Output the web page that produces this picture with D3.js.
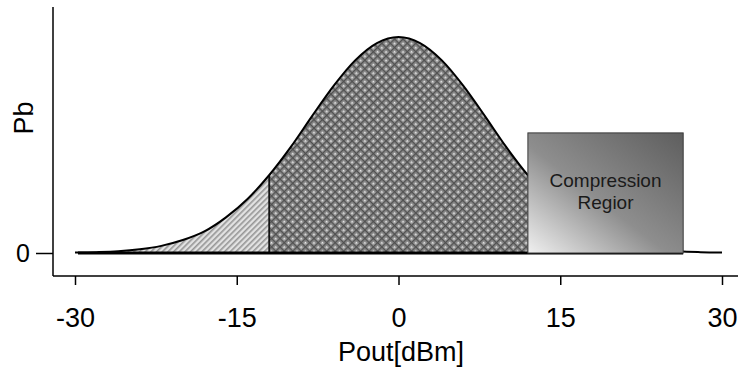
<!DOCTYPE html>
<html>
<head>
<meta charset="utf-8">
<script src="https://cdn.jsdelivr.net/npm/d3@7"></script>
<style>
  body { margin: 0; background: #fff; }
  text { font-family: "Liberation Sans", Arial, sans-serif; }
</style>
</head>
<body>
<script>
// data
var pout = [-30, -28, -26, -24, -22, -20, -18, -16, -14, -12, -10, -8, -6, -4, -2, 0,
            2, 4, 6, 8, 10, 12, 14, 16, 18, 20, 22, 24, 26, 28, 30];
var pb = [0.002, 0.004, 0.008, 0.017, 0.033, 0.06, 0.1, 0.165, 0.25, 0.36, 0.49, 0.635, 0.775, 0.893, 0.972, 1,
          0.972, 0.893, 0.775, 0.635, 0.49, 0.36, 0.25, 0.165, 0.1, 0.06, 0.033, 0.017, 0.008, 0.004, 0.002];
var xTicks = [-30, -15, 0, 15, 30];
var yTicks = [0];
var lowCut = -12;
var compStart = 12;
var compEnd = 26.4;
var compTop = 0.556;
var compLabel = ["Compression", "Regior"];

var svgWidth = 738, svgHeight = 368;

var svg = d3.select("body").append("svg")
  .attr("width", svgWidth)
  .attr("height", svgHeight);

var xscale = d3.scaleLinear().domain([-30, 30]).range([75, 722]);
var yscale = d3.scaleLinear().domain([0, 1]).range([253, 37]);

var defs = svg.append("defs");

// light diagonal hatch
var hatch = defs.append("pattern")
  .attr("id", "hatch")
  .attr("patternUnits", "userSpaceOnUse")
  .attr("width", 4).attr("height", 4)
  .attr("patternTransform", "rotate(-45)");
hatch.append("rect").attr("width", 4).attr("height", 4).attr("fill", "#e2e2e2");
hatch.append("rect").attr("width", 4).attr("height", 1.6).attr("fill", "#959595");

// dark textured fill
var tex = defs.append("pattern")
  .attr("id", "tex")
  .attr("patternUnits", "userSpaceOnUse")
  .attr("width", 6).attr("height", 6)
  .attr("patternTransform", "rotate(45)");
tex.append("rect").attr("width", 6).attr("height", 6).attr("fill", "#8f8f8f");
tex.append("rect").attr("width", 6).attr("height", 1.3).attr("fill", "#505050");
tex.append("rect").attr("width", 1.3).attr("height", 6).attr("fill", "#505050");
tex.append("rect").attr("x", 3).attr("y", 3).attr("width", 1.6).attr("height", 1.6).attr("fill", "#ececec");

// compression box gradient
var grad = defs.append("linearGradient")
  .attr("id", "comp")
  .attr("x1", "0").attr("y1", "1").attr("x2", "1").attr("y2", "0");
grad.append("stop").attr("offset", "0").attr("stop-color", "#f0f0f0");
grad.append("stop").attr("offset", "0.45").attr("stop-color", "#8e8e8e");
grad.append("stop").attr("offset", "1").attr("stop-color", "#5e5e5e");

var pts = pout.map(function(d, i) { return {x: d, y: pb[i]}; });

var area = d3.area()
  .x(d => xscale(d.x))
  .y0(yscale(0))
  .y1(d => yscale(d.y))
  .curve(d3.curveMonotoneX);

var line = d3.line()
  .x(d => xscale(d.x))
  .y(d => yscale(d.y))
  .curve(d3.curveMonotoneX);

// low tail
svg.append("path")
  .datum(pts.filter(d => d.x <= lowCut))
  .attr("d", area)
  .attr("fill", "url(#hatch)");

// main body
svg.append("path")
  .datum(pts.filter(d => d.x >= lowCut && d.x <= compStart))
  .attr("d", area)
  .attr("fill", "url(#tex)");

// curve outline
svg.append("path")
  .datum(pts)
  .attr("d", line)
  .attr("fill", "none")
  .attr("stroke", "#000")
  .attr("stroke-width", 2);

// cut line at -12
svg.append("line")
  .attr("x1", xscale(lowCut)).attr("x2", xscale(lowCut))
  .attr("y1", yscale(0)).attr("y2", yscale(pb[pout.indexOf(lowCut)]))
  .attr("stroke", "#000").attr("stroke-width", 1.5);

// base line
svg.append("line")
  .attr("x1", xscale(pout[0]) + 3).attr("x2", xscale(compEnd))
  .attr("y1", yscale(0)).attr("y2", yscale(0))
  .attr("stroke", "#000").attr("stroke-width", 3);

// compression region box
svg.append("rect")
  .attr("x", xscale(compStart))
  .attr("y", yscale(compTop))
  .attr("width", xscale(compEnd) - xscale(compStart))
  .attr("height", yscale(0) - yscale(compTop))
  .attr("fill", "url(#comp)")
  .attr("stroke", "#3a3a3a")
  .attr("stroke-width", 1);

var boxCx = (xscale(compStart) + xscale(compEnd)) / 2;
svg.append("text")
  .attr("x", boxCx).attr("y", 187)
  .attr("text-anchor", "middle")
  .style("font-size", "19px")
  .attr("fill", "#1a1a1a")
  .text(compLabel[0]);
svg.append("text")
  .attr("x", boxCx).attr("y", 209)
  .attr("text-anchor", "middle")
  .style("font-size", "19px")
  .attr("fill", "#1a1a1a")
  .text(compLabel[1]);

// axes
var bottomAxis = d3.axisBottom(xscale).tickValues(xTicks).tickSize(9).tickFormat(d => String(d));
var gx = svg.append("g")
  .attr("transform", "translate(0, 276)")
  .call(bottomAxis);
gx.select(".domain").remove();
gx.selectAll(".tick line").attr("stroke", "#000").attr("stroke-width", 1.5);
gx.selectAll(".tick text")
  .attr("y", 51).attr("dy", null)
  .attr("fill", "#000")
  .style("font-size", "27px")
  .style("font-family", "'Liberation Sans', Arial, sans-serif");

var leftAxis = d3.axisLeft(yscale).tickValues(yTicks).tickSize(17).tickPadding(6).tickFormat(d => String(d));
var gy = svg.append("g")
  .attr("transform", "translate(53, 0)")
  .call(leftAxis);
gy.select(".domain").remove();
gy.selectAll(".tick line").attr("stroke", "#000").attr("stroke-width", 1.5);
gy.selectAll(".tick text")
  .attr("dy", "0.35em")
  .attr("fill", "#000")
  .style("font-size", "25px")
  .style("font-family", "'Liberation Sans', Arial, sans-serif");

svg.append("line")
  .attr("x1", 53).attr("x2", 53).attr("y1", 7).attr("y2", 276)
  .attr("stroke", "#000").attr("stroke-width", 1.5);
svg.append("line")
  .attr("x1", 53).attr("x2", svgWidth).attr("y1", 276).attr("y2", 276)
  .attr("stroke", "#000").attr("stroke-width", 1.5);

// axis titles
svg.append("text")
  .attr("transform", "translate(33, 118) rotate(-90)")
  .attr("text-anchor", "middle")
  .style("font-size", "27px")
  .text("Pb");

svg.append("text")
  .attr("x", 401).attr("y", 361)
  .attr("text-anchor", "middle")
  .style("font-size", "27px")
  .text("Pout[dBm]");
</script>
</body>
</html>
